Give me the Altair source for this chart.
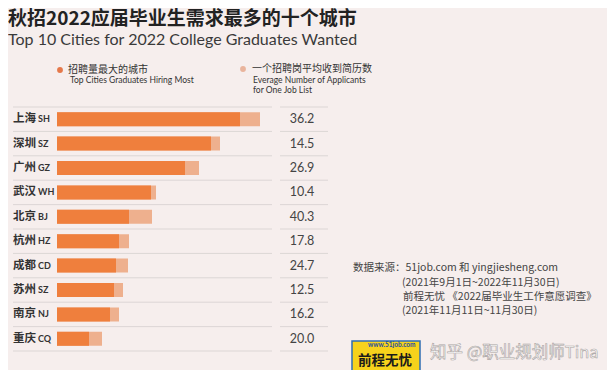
import altair as alt
import pandas as pd

# ---- data ----
cities_cn = ["上海", "深圳", "广州", "武汉", "北京", "杭州", "成都", "苏州", "南京", "重庆"]
cities_code = ["SH", "SZ", "GZ", "WH", "BJ", "HZ", "CD", "SZ", "NJ", "CQ"]
hiring = [183, 154, 128, 94, 72, 62, 59, 57, 53, 32]          # dark segment (relative)
hiring_total = [203, 163, 142, 99, 95, 72, 71, 66, 62, 45]    # end of light segment (relative)
applicants = [36.2, 14.5, 26.9, 10.4, 40.3, 17.8, 24.7, 12.5, 16.2, 20.0]

cities = [f"{c} {k}" for c, k in zip(cities_cn, cities_code)]
df = pd.DataFrame({
    "city": cities,
    "cn": cities_cn,
    "code": cities_code,
    "hiring": hiring,
    "total": hiring_total,
    "applicants": applicants,
})

BG = "#f6eeed"
DARK = "#ef7f3d"
LIGHT = "#eeb08e"
TXT = "#333333"
CJK = "Noto Sans CJK SC"
LAT = "Lato"

yenc = alt.Y("city:N", sort=cities, axis=None,
             scale=alt.Scale(domain=cities, range=[99, 343], paddingInner=0, paddingOuter=0))
xscale = alt.Scale(domain=[0, 250], range=[49, 299])

base = alt.Chart(df)

RC = "#dcd6d5"
rules_left = base.mark_rule(color=RC, strokeWidth=1, yOffset=-12.2).encode(
    y=yenc, x=alt.value(5), x2=alt.value(264))
rules_right = base.mark_rule(color=RC, strokeWidth=1, yOffset=-12.2).encode(
    y=yenc, x=alt.value(272), x2=alt.value(320))
last = base.transform_filter(alt.datum.city == cities[-1])
rule_bl = last.mark_rule(color=RC, strokeWidth=1, yOffset=12.2).encode(
    y=yenc, x=alt.value(5), x2=alt.value(264))
rule_br = last.mark_rule(color=RC, strokeWidth=1, yOffset=12.2).encode(
    y=yenc, x=alt.value(272), x2=alt.value(320))

bar_light = base.mark_bar(color=LIGHT, size=14).encode(
    y=yenc, x=alt.X("total:Q", scale=xscale, axis=None))
bar_dark = base.mark_bar(color=DARK, size=14).encode(
    y=yenc, x=alt.X("hiring:Q", scale=xscale, axis=None))

lab_cn = base.mark_text(align="left", baseline="middle", font=CJK, fontSize=11.5,
                        fontWeight="bold", color=TXT).encode(
    y=yenc, x=alt.value(5), text="cn:N")
lab_code = base.mark_text(align="left", baseline="middle", font=LAT, fontSize=9,
                          fontWeight="bold", color=TXT).encode(
    y=yenc, x=alt.value(30), text="code:N")
nums = base.mark_text(align="center", baseline="middle", font=LAT, fontSize=12.5,
                      color="#444444").encode(
    y=yenc, x=alt.value(294), text=alt.Text("applicants:Q", format=".1f"))


def txt(s, x, y, size, color=TXT, font=CJK, weight="normal", align="left",
        baseline="middle", **kw):
    return alt.Chart(alt.Data(values=[{}])).mark_text(
        text=s, align=align, baseline=baseline, font=font, fontSize=size,
        fontWeight=weight, color=color, **kw).encode(x=alt.value(x), y=alt.value(y))


def dot(x, y, color):
    return alt.Chart(alt.Data(values=[{}])).mark_circle(
        size=34, opacity=1, color=color).encode(x=alt.value(x), y=alt.value(y))


title = txt("秋招2022应届毕业生需求最多的十个城市", 0, 2, 19, color="#222222",
            weight="bold", baseline="top")
subtitle = txt("Top 10 Cities for 2022 College Graduates Wanted", 0, 32, 16,
               color="#3a3a3a", font=LAT, weight="normal")

dot1 = dot(52, 62, "#e5784a")
dot2 = dot(235, 61, "#e9b49c")
leg1a = txt("招聘量最大的城市", 60, 62, 10)
leg1b = txt("Top Cities Graduates Hiring Most", 62, 72, 8.5, font=LAT)
leg2a = txt("一个招聘岗平均收到简历数", 244, 61, 10)
leg2b = txt("Everage Number of Applicants", 245, 72, 8.5, font=LAT)
leg2c = txt("for One Job List", 245, 82, 8.5, font=LAT)

src1 = txt("数据来源：51job.com 和 yingjiesheng.com", 345, 260, 10.5, color="#444444")
src2 = txt("(2021年9月1日~2022年11月30日)", 394, 275, 10.5, color="#444444")
src3 = txt("前程无忧 《2022届毕业生工作意愿调查》", 395, 289, 10.5, color="#444444")
src4 = txt("(2021年11月11日~11月30日)", 394, 303, 10.5, color="#444444")

logo_box = alt.Chart(alt.Data(values=[{}])).mark_rect(
    color="#f6d21c", stroke="#2f6db3", strokeWidth=1.5).encode(
    x=alt.value(344), x2=alt.value(412), y=alt.value(333), y2=alt.value(366))
logo_url = txt("www.51job.com", 360, 337, 6.5, color="#1f4fa0", font=LAT, weight="bold")
logo_name = txt("前程无忧", 350, 353, 13.5, color="#1a1a1a", weight="bold")

watermark = txt("知乎 @职业规划师Tina", 422, 345, 16.5, color="#ffffff",
                stroke="#a9a3a2", strokeWidth=0.6)

chart = alt.layer(
    rules_left, rules_right, rule_bl, rule_br,
    bar_light, bar_dark, lab_cn, lab_code, nums,
    title, subtitle, dot1, dot2, leg1a, leg1b, leg2a, leg2b, leg2c,
    src1, src2, src3, src4, logo_box, logo_url, logo_name, watermark,
).properties(
    width=599, height=362,
    autosize=alt.AutoSizeParams(type="none"),
    padding=0,
    background=BG,
).configure_view(stroke=None)

chart.save("out.html", embed_options={"renderer": "svg", "actions": False})
